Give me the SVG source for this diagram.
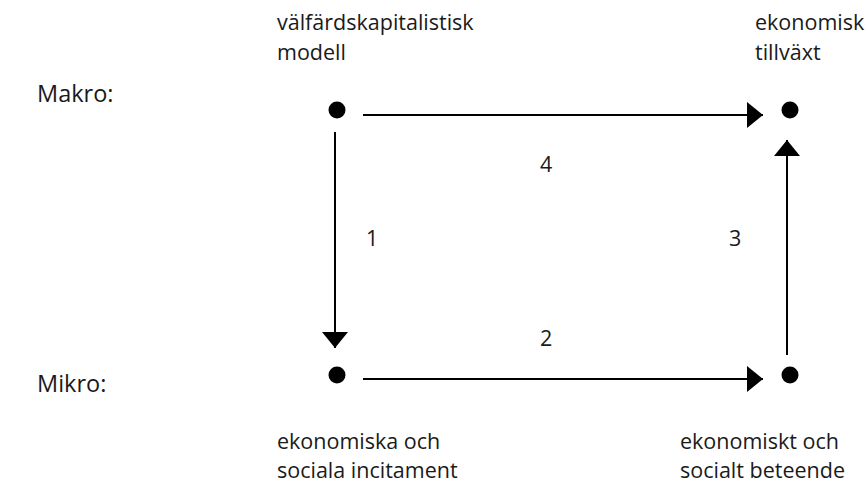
<svg xmlns="http://www.w3.org/2000/svg" width="868" height="486" viewBox="0 0 868 486">
<style>
text{font-family:"Open Sans","Noto Sans","DejaVu Sans",sans-serif;font-size:21.5px;fill:#1a1a1a}
.lv{font-size:23.5px}
.ln{stroke:#000;stroke-width:2;fill:none}
.dot{fill:#000}
</style>
<defs>
<marker id="ah" markerUnits="userSpaceOnUse" markerWidth="18" markerHeight="26" refX="16" refY="13" orient="auto" viewBox="0 0 18 26">
<path d="M0,0 L16,13 L0,26 Z" fill="#000"/>
</marker>
</defs>
<rect width="868" height="486" fill="#fff"/>
<text class="lv" x="37" y="102">Makro:</text>
<text class="lv" x="37" y="392">Mikro:</text>
<g id="n-valfard">
<circle class="dot" cx="337" cy="110" r="8.5"/>
<text x="277" y="30">välfärdskapitalistisk</text>
<text x="277" y="60">modell</text>
</g>
<g id="n-tillvaxt">
<circle class="dot" cx="790" cy="110" r="8.5"/>
<text x="755" y="30">ekonomisk</text>
<text x="755" y="60">tillväxt</text>
</g>
<g id="n-incitament">
<circle class="dot" cx="337" cy="375" r="8.5"/>
<text x="277" y="449">ekonomiska och</text>
<text x="277" y="478">sociala incitament</text>
</g>
<g id="n-beteende">
<circle class="dot" cx="790" cy="375" r="8.5"/>
<text x="680" y="449">ekonomiskt och</text>
<text x="680" y="478">socialt beteende</text>
</g>
<g id="connectors">
<line class="ln" x1="363" y1="115" x2="763" y2="115" marker-end="url(#ah)"/>
<line class="ln" x1="335" y1="132" x2="335" y2="348" marker-end="url(#ah)"/>
<line class="ln" x1="363" y1="379" x2="763" y2="379" marker-end="url(#ah)"/>
<line class="ln" x1="787" y1="355" x2="787" y2="140" marker-end="url(#ah)"/>
<text x="540" y="172">4</text>
<text x="366" y="246">1</text>
<text x="729" y="246">3</text>
<text x="540" y="346">2</text>
</g>
</svg>
